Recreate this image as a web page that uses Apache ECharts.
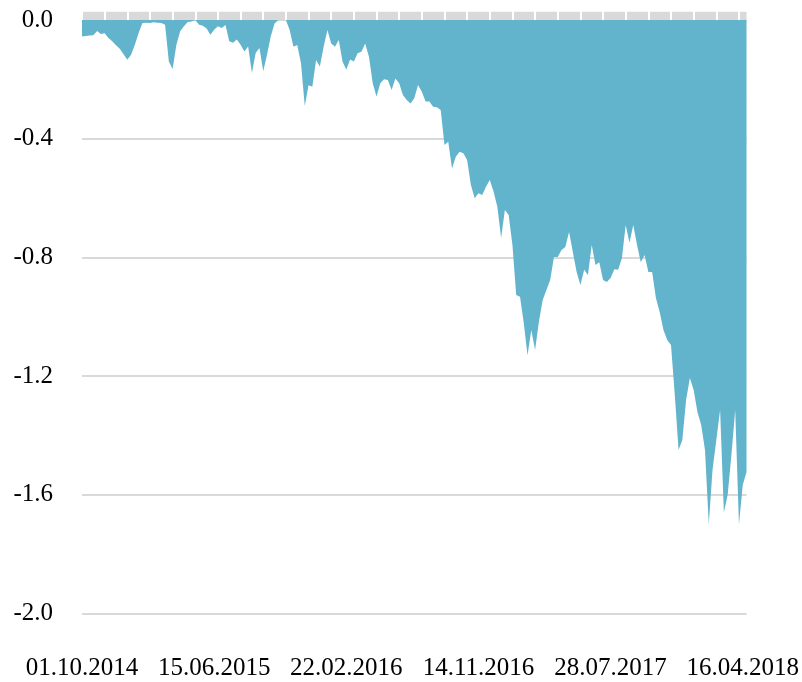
<!DOCTYPE html>
<html>
<head>
<meta charset="utf-8">
<script src="https://cdn.jsdelivr.net/npm/echarts@6/dist/echarts.min.js"></script>
<style>
  html, body { margin: 0; padding: 0; background: #fff; }
  #main { width: 802px; height: 682px; }
</style>
</head>
<body>
<div id="main"></div>
<script>
// tick labels on the x axis, one every 35 points
var tickLabels = ['01.10.2014', '15.06.2015', '22.02.2016', '14.11.2016', '28.07.2017', '16.04.2018'];
var labelEvery = 35;
var tickEvery = 6;

// drawdown values
var drawdown = [
  -0.056, -0.054, -0.052, -0.051, -0.037, -0.047, -0.045, -0.061, -0.072, -0.085,
  -0.097, -0.115, -0.134, -0.117, -0.083, -0.044, -0.010, -0.009, -0.010, -0.008,
  -0.009, -0.010, -0.016, -0.140, -0.165, -0.083, -0.038, -0.021, -0.007, -0.005,
  0, -0.016, -0.019, -0.029, -0.050, -0.033, -0.021, -0.027, -0.017, -0.072,
  -0.077, -0.066, -0.083, -0.106, -0.089, -0.179, -0.111, -0.094, -0.173, -0.117,
  -0.055, -0.012, 0, 0, 0, -0.034, -0.090, -0.084, -0.146, -0.290,
  -0.220, -0.225, -0.135, -0.157, -0.090, -0.034, -0.079, -0.090, -0.067, -0.140,
  -0.168, -0.133, -0.140, -0.112, -0.107, -0.079, -0.124, -0.213, -0.258, -0.213,
  -0.200, -0.202, -0.236, -0.197, -0.213, -0.253, -0.270, -0.281, -0.264, -0.219,
  -0.242, -0.275, -0.275, -0.292, -0.294, -0.303, -0.421, -0.410, -0.500, -0.461,
  -0.444, -0.449, -0.472, -0.556, -0.601, -0.584, -0.590, -0.562, -0.539, -0.578,
  -0.629, -0.735, -0.640, -0.657, -0.758, -0.927, -0.933, -1.021, -1.130, -1.045,
  -1.112, -1.018, -0.944, -0.910, -0.876, -0.799, -0.799, -0.775, -0.765, -0.714,
  -0.782, -0.849, -0.893, -0.842, -0.859, -0.758, -0.826, -0.816, -0.876, -0.883,
  -0.869, -0.840, -0.842, -0.802, -0.691, -0.751, -0.691, -0.758, -0.816, -0.792,
  -0.849, -0.849, -0.937, -0.984, -1.045, -1.078, -1.095, -1.264, -1.449, -1.415,
  -1.280, -1.206, -1.247, -1.321, -1.365, -1.449, -1.700, -1.516, -1.415, -1.314,
  -1.660, -1.601, -1.466, -1.314, -1.700, -1.567, -1.523
];

var categories = drawdown.map(function (v, i) { return String(i); });

var font = 'Liberation Serif';
var myChart = echarts.init(document.getElementById('main'));
myChart.setOption({
  animation: false,
  grid: { left: 82, right: 54, top: 20, bottom: 68.5 },
  xAxis: [{
    // bottom axis with the date labels
    type: 'category',
    data: categories,
    boundaryGap: false,
    position: 'bottom',
    axisLine: { show: false, onZero: false },
    axisTick: { show: false },
    axisLabel: {
      interval: labelEvery - 1,
      margin: 42,
      color: '#000',
      fontFamily: font,
      fontSize: 25,
      formatter: function (v, idx) {
        return tickLabels[idx / labelEvery] || '';
      }
    }
  }, {
    // grey band at the top
    type: 'category',
    data: categories,
    boundaryGap: false,
    position: 'top',
    offset: 4.5,
    z: 0,
    axisLine: { show: true, onZero: false, lineStyle: { color: '#d9d9d9', width: 8.4, cap: 'butt' } },
    axisTick: { show: false },
    axisLabel: { show: false }
  }, {
    // white notches across the band
    type: 'category',
    data: categories,
    boundaryGap: false,
    position: 'top',
    offset: 11,
    z: 1,
    axisLine: { show: false, onZero: false },
    axisTick: {
      show: true,
      inside: true,
      interval: tickEvery - 1,
      length: 11,
      lineStyle: { color: '#fff', width: 2, cap: 'butt' }
    },
    axisLabel: { show: false }
  }],
  yAxis: {
    type: 'value',
    min: -2,
    max: 0,
    interval: 0.4,
    axisLine: { show: false },
    axisTick: { show: false },
    splitLine: { lineStyle: { color: '#d9d9d9', width: 2 } },
    axisLabel: {
      margin: 29,
      color: '#000',
      fontFamily: font,
      fontSize: 25,
      formatter: function (v) { return v.toFixed(1); }
    }
  },
  series: [{
    type: 'line',
    xAxisIndex: 0,
    data: drawdown,
    symbol: 'none',
    lineStyle: { width: 0 },
    areaStyle: { color: '#62b4cc', opacity: 1 },
    z: 2
  }]
});
</script>
</body>
</html>
